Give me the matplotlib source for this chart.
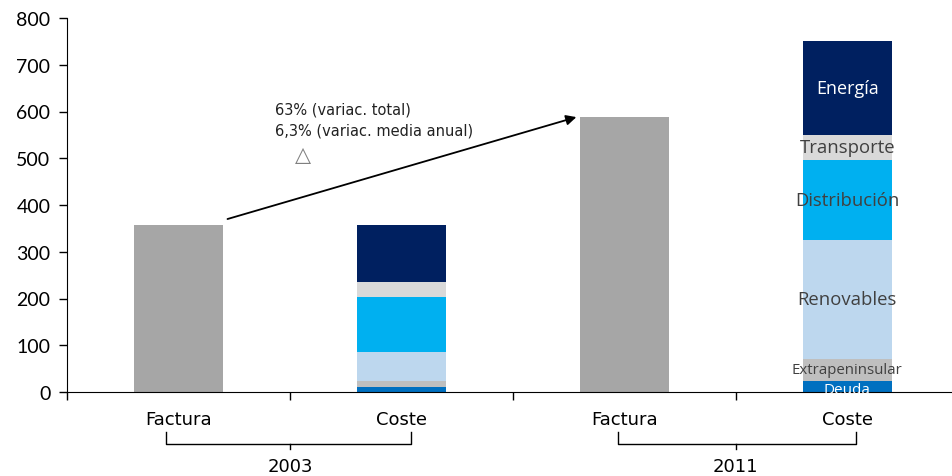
import matplotlib
matplotlib.use("Agg")
import matplotlib.pyplot as plt
import numpy as np

categories = ["Factura", "Coste", "Factura", "Coste"]
years = ["2003", "2011"]
factura = [357, 588]          # Factura 2003, 2011
segment_names = ["Deuda", "Extrapeninsular", "Renovables", "Distribución", "Transporte", "Energía"]
coste_2003 = [11, 13, 61, 119, 31, 122]
coste_2011 = [24, 47, 254, 172, 53, 200]
seg_colors = ["#0070C0", "#BFBFBF", "#BDD7EE", "#00B0F0", "#D9D9D9", "#002060"]
seg_text_colors = ["white", "#404040", "#404040", "#404040", "#404040", "white"]
factura_color = "#A6A6A6"
yticks = [0, 100, 200, 300, 400, 500, 600, 700, 800]

fig = plt.figure(figsize=(9.52, 4.77), dpi=100)
ax = fig.add_axes([67/952, 1 - 393/477, 1 - 67/952, 374/477])

pos = np.arange(4)
w = 0.4
ax.bar([pos[0], pos[2]], factura, width=w, color=factura_color, zorder=2)
for p, vals in [(pos[1], coste_2003), (pos[3], coste_2011)]:
    bottom = 0
    for v, c in zip(vals, seg_colors):
        ax.bar(p, v, width=w, bottom=bottom, color=c, zorder=2)
        bottom += v

# labels in 2011 cost bar
bottom = 0
label_sizes = [11, 10.8, 13.3, 13.3, 13.3, 13]
for name, v, tc, fs in zip(segment_names, coste_2011, seg_text_colors, label_sizes):
    yc = bottom + v / 2
    if name == "Deuda":
        yc = bottom + 6
    ax.text(pos[3], yc, name, ha="center", va="center", color=tc,
            fontsize=fs, family=["Open Sans", "DejaVu Sans"], zorder=3)
    bottom += v

ax.set_ylim(0, 800)
ax.set_xlim(-0.5, 3.47)
ax.set_yticks(yticks)
ax.set_yticklabels([str(t) for t in yticks], fontsize=14, family=["Lato", "DejaVu Sans"])
ax.set_xticks([-0.5, 0.5, 1.5, 2.5])
ax.set_xticklabels([])
ax.tick_params(axis="both", direction="out", length=6, width=1, color="black")
ax.tick_params(axis="y", pad=6)
for s in ["top", "right"]:
    ax.spines[s].set_visible(False)

trans = ax.get_xaxis_transform()
for p, c in zip(pos, categories):
    ax.text(p, -0.072, c, ha="center", va="center", fontsize=13, transform=trans,
            family=["Liberation Sans Narrow", "DejaVu Sans"])

brackets = [(-0.054, 1.045, 0.5), (1.973, 3.04, 2.5)]
for (x0, x1, xc), yr in zip(brackets, years):
    ax.plot([x0, x0, x1, x1], [-0.107, -0.139, -0.139, -0.107], color="black",
            lw=1, transform=trans, clip_on=False)
    ax.plot([xc, xc], [-0.139, -0.152], color="black", lw=1, transform=trans, clip_on=False)
    ax.text(xc, -0.198, yr, ha="center", va="center", fontsize=13, transform=trans,
            family=["Liberation Sans Narrow", "DejaVu Sans"])

# growth arrow
ax.annotate("", xy=(1.785, 588), xytext=(0.22, 370),
            arrowprops=dict(arrowstyle="-|>", color="black", lw=1.3, mutation_scale=15,
                            shrinkA=0, shrinkB=0), zorder=4)
ax.text(0.435, 605, "63% (variac. total)", fontsize=10.5, ha="left", va="center",
        family=["DejaVu Sans"], color="#222222")
ax.text(0.435, 560, "6,3% (variac. media anual)", fontsize=10.5, ha="left", va="center",
        family=["DejaVu Sans"], color="#222222")
ax.text(0.56, 509, "△", fontsize=15, ha="center", va="center", color="#808080",
        family=["DejaVu Sans"])

fig.savefig("out.png", dpi=100)
